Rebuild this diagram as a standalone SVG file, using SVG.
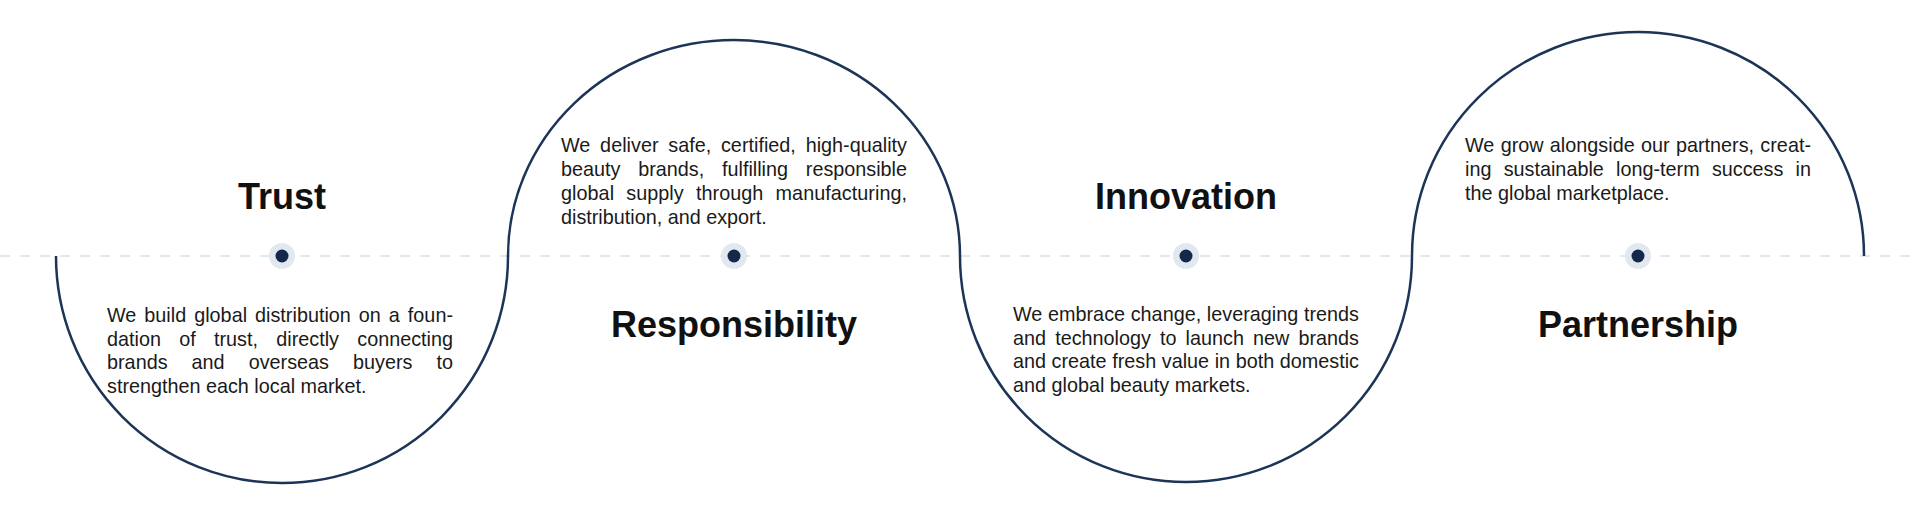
<svg xmlns="http://www.w3.org/2000/svg" width="1920" height="508" viewBox="0 0 1920 508">
  <style>
    .title { font-family: "Liberation Sans", Arial, sans-serif; font-weight: bold; font-size: 36px; fill: #111111; text-anchor: middle; }
    .body { font-family: "Liberation Sans", Arial, sans-serif; font-size: 19.8px; fill: #1a1a1a; }
    .halo { fill: #e2e8f0; }
    .dot { fill: #14294a; }
    .axis { stroke: #e2e8f0; stroke-width: 2; stroke-dasharray: 10 10; fill: none; }
    .wave { stroke: #1c3557; stroke-width: 2.5; fill: none; }
  </style>
  <rect width="1920" height="508" fill="#ffffff"/>

  <g id="connectors">
    <line class="axis" x1="0" y1="256" x2="1920" y2="256"/>
    <path class="wave" d="M 56 256 A 226 227 0 0 0 508 256 A 226 216 0 0 1 960 256 A 226 226 0 0 0 1412 256 A 226 224 0 0 1 1864 256"/>
  </g>

  <g id="node-trust">
    <circle class="halo" cx="282" cy="256" r="13"/>
    <circle class="dot" cx="282" cy="256" r="6.5"/>
    <text class="title" x="282" y="208.5">Trust</text>
    <text class="body" x="107" y="321.5" word-spacing="2.45" textLength="346" lengthAdjust="spacing">We build global distribution on a foun-</text>
    <text class="body" x="107" y="345.5" word-spacing="12.8" textLength="346" lengthAdjust="spacing">dation of trust, directly connecting</text>
    <text class="body" x="107" y="369.3" word-spacing="18.5" textLength="346" lengthAdjust="spacing">brands and overseas buyers to</text>
    <text class="body" x="107" y="393">strengthen each local market.</text>
  </g>

  <g id="node-responsibility">
    <circle class="halo" cx="734" cy="256" r="13"/>
    <circle class="dot" cx="734" cy="256" r="6.5"/>
    <text class="title" x="734" y="337.3">Responsibility</text>
    <text class="body" x="561" y="151.7" word-spacing="4.25" textLength="346" lengthAdjust="spacing">We deliver safe, certified, high-quality</text>
    <text class="body" x="561" y="175.7" word-spacing="12.3" textLength="346" lengthAdjust="spacing">beauty brands, fulfilling responsible</text>
    <text class="body" x="561" y="199.8" word-spacing="6.7" textLength="346" lengthAdjust="spacing">global supply through manufacturing,</text>
    <text class="body" x="561" y="223.9">distribution, and export.</text>
  </g>

  <g id="node-innovation">
    <circle class="halo" cx="1186" cy="256" r="13"/>
    <circle class="dot" cx="1186" cy="256" r="6.5"/>
    <text class="title" x="1186" y="208.8">Innovation</text>
    <text class="body" x="1013" y="320.5" word-spacing="0.1" textLength="346" lengthAdjust="spacing">We embrace change, leveraging trends</text>
    <text class="body" x="1013" y="344.5" word-spacing="3.6" textLength="346" lengthAdjust="spacing">and technology to launch new brands</text>
    <text class="body" x="1013" y="368.4" word-spacing="0.07" textLength="346" lengthAdjust="spacing">and create fresh value in both domestic</text>
    <text class="body" x="1013" y="392.4">and global beauty markets.</text>
  </g>

  <g id="node-partnership">
    <circle class="halo" cx="1638" cy="256" r="13"/>
    <circle class="dot" cx="1638" cy="256" r="6.5"/>
    <text class="title" x="1638" y="337.3">Partnership</text>
    <text class="body" x="1465" y="151.7" word-spacing="0.76" textLength="346" lengthAdjust="spacing">We grow alongside our partners, creat-</text>
    <text class="body" x="1465" y="175.7" word-spacing="6.7" textLength="346" lengthAdjust="spacing">ing sustainable long-term success in</text>
    <text class="body" x="1465" y="199.8">the global marketplace.</text>
  </g>
</svg>
